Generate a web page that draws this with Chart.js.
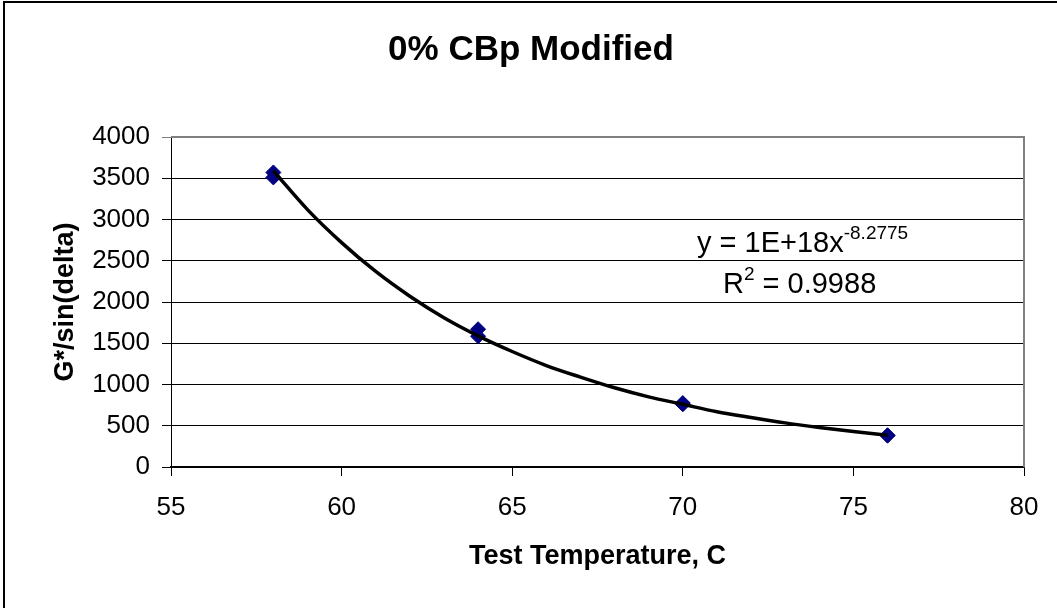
<!DOCTYPE html>
<html><head><meta charset="utf-8">
<script src="https://cdn.jsdelivr.net/npm/chart.js@4.4.0/dist/chart.umd.min.js"></script>
<style>html,body{margin:0;padding:0;background:#fff}#wrap{width:1057px;height:608px;position:relative}</style>
</head><body><div id="wrap"><canvas id="c" width="1057" height="608"></canvas></div>
<script>
const chartTitle = '0% CBp Modified';
const xAxisTitle = 'Test Temperature, C';
const yAxisTitle = 'G*/sin(delta)';
const xTickValues = [55, 60, 65, 70, 75, 80];
const yTickValues = [0, 500, 1000, 1500, 2000, 2500, 3000, 3500, 4000];
const sampleTemps = [58, 58, 64, 64, 70, 70, 76, 76];
const sampleValues = [3570, 3510, 1670, 1585, 775, 760, 385, 380];
const trendTemps = [58, 59, 60, 61, 62, 63, 64, 65, 66, 67, 68, 69, 70, 71, 72, 73, 74, 75, 76];
const trendValues = [3590, 3120, 2720, 2370, 2070, 1810, 1590, 1400, 1230, 1090, 960, 850, 760, 670, 600, 535, 480, 430, 385];
const eqMain = 'y = 1E+18x';
const eqExp = '-8.2775';
const rMain = 'R';
const rSup = '2';
const rRest = ' = 0.9988';

const FONT = "'Liberation Sans', Arial, sans-serif";

const decor = {
  id: 'decor',
  beforeDraw(chart) {
    const ctx = chart.ctx;
    ctx.save();
    ctx.fillStyle = '#fff';
    ctx.fillRect(0, 0, chart.width, chart.height);
    ctx.strokeStyle = '#000';
    ctx.lineWidth = 2;
    ctx.beginPath();
    ctx.moveTo(4, chart.height);
    ctx.lineTo(4, 2);
    ctx.lineTo(chart.width, 2);
    ctx.stroke();
    ctx.restore();
  },
  beforeDatasetsDraw(chart) {
    const ctx = chart.ctx, a = chart.chartArea;
    ctx.save();
    ctx.strokeStyle = '#808080';
    ctx.lineWidth = 2;
    ctx.beginPath();
    ctx.moveTo(a.left, a.top);
    ctx.lineTo(a.right, a.top);
    ctx.lineTo(a.right, a.bottom);
    ctx.stroke();
    ctx.restore();
  },
  afterDraw(chart) {
    const ctx = chart.ctx, a = chart.chartArea;
    ctx.save();
    ctx.fillStyle = '#000';
    ctx.textBaseline = 'alphabetic';
    ctx.textAlign = 'left';
    let x = a.left + 526, y = a.top + 115;
    ctx.font = '29px ' + FONT;
    ctx.fillText(eqMain, x, y);
    x += ctx.measureText(eqMain).width;
    ctx.font = '19px ' + FONT;
    ctx.fillText(eqExp, x, y - 13);
    x = a.left + 552; y = a.top + 156;
    ctx.font = '29px ' + FONT;
    ctx.fillText(rMain, x, y);
    x += ctx.measureText(rMain).width;
    ctx.font = '19px ' + FONT;
    ctx.fillText(rSup, x, y - 13);
    x += ctx.measureText(rSup).width;
    ctx.font = '29px ' + FONT;
    ctx.fillText(rRest, x, y);
    ctx.restore();
  }
};

new Chart(document.getElementById('c'), {
  type: 'scatter',
  data: {
    datasets: [
      {
        label: 'Power trend',
        data: trendTemps.map((t, i) => ({x: t, y: trendValues[i]})),
        showLine: true,
        borderColor: '#000',
        borderWidth: 3.5,
        pointRadius: 0,
        cubicInterpolationMode: 'monotone',
        fill: false
      },
      {
        label: 'G*/sin(delta)',
        data: sampleTemps.map((t, i) => ({x: t, y: sampleValues[i]})),
        showLine: false,
        pointStyle: 'rectRot',
        pointRadius: 7.5,
        backgroundColor: '#000080',
        borderColor: '#000080',
        borderWidth: 1
      }
    ]
  },
  options: {
    responsive: false,
    animation: false,
    devicePixelRatio: 1,
    layout: { padding: { left: 5, right: 0, top: 0, bottom: 0 } },
    plugins: {
      legend: { display: false },
      tooltip: { enabled: false },
      title: {
        display: true,
        text: chartTitle,
        color: '#000',
        font: { family: FONT, size: 35, weight: 'bold', lineHeight: 1.2 },
        padding: { top: 29, bottom: 66 }
      }
    },
    scales: {
      x: {
        type: 'linear',
        min: 55, max: 80,
        afterBuildTicks: s => { s.ticks = xTickValues.map(v => ({value: v})); },
        afterFit: s => { s.height = 141; },
        grid: { drawOnChartArea: false, drawTicks: true, tickLength: 9, color: '#000', lineWidth: 1 },
        border: { display: true, color: '#000', width: 1.5 },
        ticks: { color: '#000', padding: 16, maxRotation: 0, font: { family: FONT, size: 26 }, callback: v => String(v) },
        title: { display: true, text: xAxisTitle, color: '#000', font: { family: FONT, size: 27, weight: 'bold', lineHeight: 1.2 }, padding: { top: 0, bottom: 35 } }
      },
      y: {
        type: 'linear',
        min: 0, max: 4000,
        afterBuildTicks: s => { s.ticks = yTickValues.map(v => ({value: v})); },
        afterFit: s => { s.width = 166; },
        grid: { drawOnChartArea: true, drawTicks: true, tickLength: 9, color: ctx => (ctx.tick && ctx.tick.value === 4000) ? '#808080' : '#000', lineWidth: 1 },
        border: { display: true, color: '#000', width: 1 },
        ticks: { color: '#000', padding: 12, font: { family: FONT, size: 26 }, callback: v => String(v) },
        title: { display: true, text: yAxisTitle, color: '#000', font: { family: FONT, size: 27, weight: 'bold', lineHeight: 1.2 }, padding: { top: 44, bottom: 0 } }
      },
      yRight: {
        type: 'linear',
        position: 'right',
        display: true,
        min: 0, max: 4000,
        afterFit: s => { s.width = 33; },
        grid: { display: false, drawTicks: false },
        border: { display: false },
        ticks: { display: false }
      }
    }
  },
  plugins: [decor]
});
</script>
</body></html>
